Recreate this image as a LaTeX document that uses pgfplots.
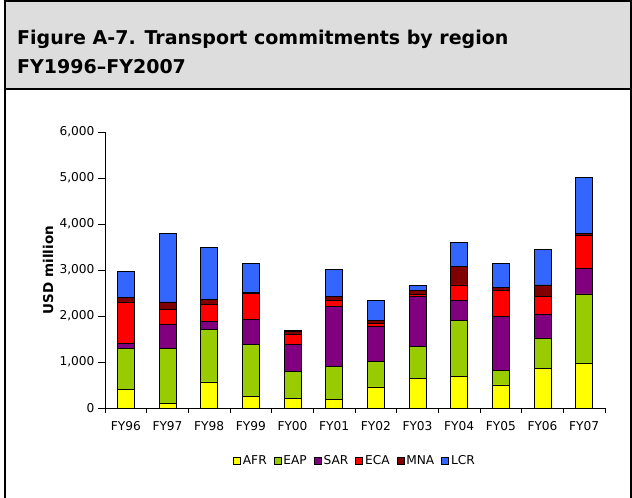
\documentclass[border=0pt]{standalone}
\usepackage{fontspec}
\setmainfont{DejaVu Sans}
\newfontfamily\titlefont{DejaVu Sans}
\usepackage{pgfplots}
\usepackage{pgfplotstable}
\pgfplotsset{compat=1.18}

\definecolor{hdrgray}{HTML}{DDDDDD}
\definecolor{cAFR}{HTML}{FFFF00}
\definecolor{cEAP}{HTML}{99CC00}
\definecolor{cSAR}{HTML}{800080}
\definecolor{cECA}{HTML}{FF0000}
\definecolor{cMNA}{HTML}{800000}
\definecolor{cLCR}{HTML}{3366FF}

% transport commitments, USD million
\pgfplotstableread{
x  AFR  EAP  SAR  ECA  MNA  LCR
0  400  895  109  887  116  560
1  95   1207 509  334  160  1491
2  567  1135 174  379  101  1128
3  247  1135 538  575  14   640
4  211  582  589  211  72   30
5  182  713  1316 124  87   596
6  458  546  763  80   66   422
7  647  698  1077 51   87   102
8  691  1222 422  341  400  531
9  502  320  1178 560  58   531
10 858  662  524  378  254  764
11 967  1513 553  720  43   1222
}\commits

\begin{document}
\begin{tikzpicture}[x=1pt,y=1pt]
  \path[use as bounding box] (0,0) rectangle (632,498);
  \fill[hdrgray] (5,408) rectangle (631,498);
  \draw[line width=2pt] (5,0) -- (5,497) -- (631,497) -- (631,0);
  \draw[line width=2pt] (5,408.5) -- (631,408.5);
  \node[anchor=base west, inner sep=0pt, font=\titlefont\bfseries\fontsize{19}{22}\selectfont]
    at (17,453) {Figure A-7. Transport commitments by region};
  \node[anchor=base west, inner sep=0pt, font=\titlefont\bfseries\fontsize{19}{22}\selectfont]
    at (17,424) {FY1996–FY2007};

  \begin{axis}[
    at={(105pt,90pt)}, anchor=south west,
    scale only axis, width=500pt, height=276pt,
    ybar stacked, bar width=17pt,
    xmin=-0.5, xmax=11.5, ymin=0, ymax=6000,
    axis lines*=left,
    axis line style={line width=0.8pt},
    tick align=outside,
    major tick length=7pt, minor tick length=5pt,
    tick style={black, line width=0.8pt},
    xtick={0,...,11},
    xticklabels={FY96,FY97,FY98,FY99,FY00,FY01,FY02,FY03,FY04,FY05,FY06,FY07},
    minor xtick={-0.5,0.5,...,11.5},
    every major x tick/.append style={draw=none},
    ytick={0,1000,...,6000},
    /pgf/number format/1000 sep={,},
    /pgf/number format/assume math mode=true,
    tick label style={font=\fontsize{12.2}{14}\selectfont},
    xticklabel style={yshift=-3pt},
    every axis y label/.style={at={(axis description cs:-0.114,0.5)}, rotate=90, anchor=center},
    ylabel={USD million},
    ylabel style={font=\bfseries\fontsize{13.5}{15}\selectfont},
    every axis plot/.append style={draw=black, line width=0.7pt,
      legend image code/.code={\draw[##1, draw=black, line width=0.7pt] (0pt,-3.5pt) rectangle (7pt,3.5pt);}},
    legend columns=6,
    legend style={draw=none, at={(0.5,-0.192)}, anchor=center,
      font=\fontsize{12.2}{14}\selectfont,
      /tikz/every even column/.append style={column sep=5pt},
      /tikz/every odd column/.append style={column sep=0pt}},
  ]
    \addplot[fill=cAFR] table[x=x, y=AFR] {\commits};
    \addplot[fill=cEAP] table[x=x, y=EAP] {\commits};
    \addplot[fill=cSAR] table[x=x, y=SAR] {\commits};
    \addplot[fill=cECA] table[x=x, y=ECA] {\commits};
    \addplot[fill=cMNA] table[x=x, y=MNA] {\commits};
    \addplot[fill=cLCR] table[x=x, y=LCR] {\commits};
    \legend{AFR,EAP,SAR,ECA,MNA,LCR}
  \end{axis}
\end{tikzpicture}
\end{document}
